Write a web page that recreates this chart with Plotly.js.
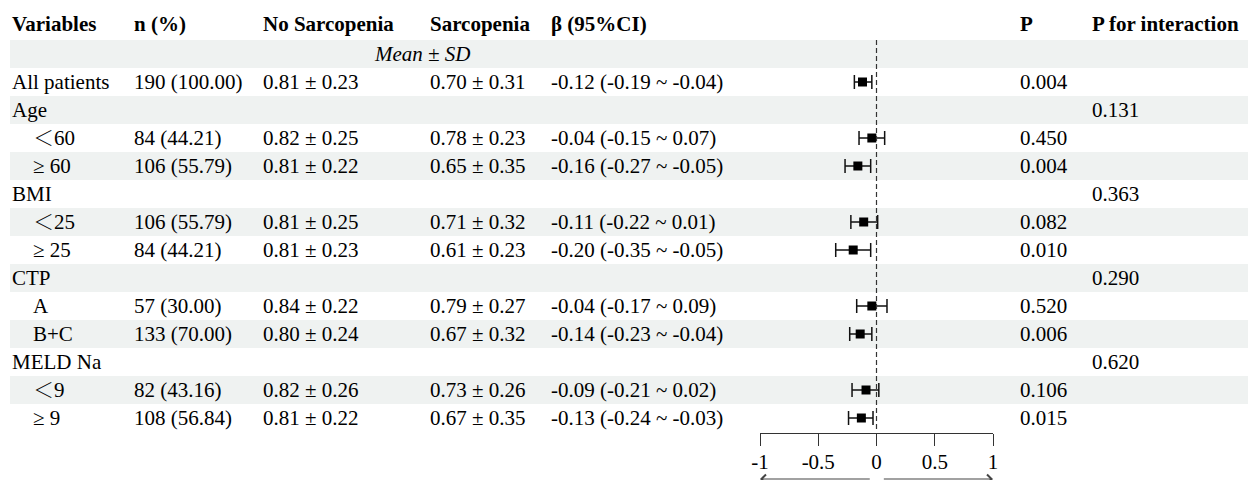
<!DOCTYPE html>
<html>
<head>
<meta charset="utf-8">
<script src="https://cdn.plot.ly/plotly-3.0.1.min.js"></script>
<style>html,body{margin:0;padding:0;background:#fff;}#chart{width:1248px;height:480px;}</style>
</head>
<body>
<div id="chart"></div>
<script>
// ---- data ----
const headers = ['Variables', 'n (%)', 'No Sarcopenia', 'Sarcopenia', 'β (95%CI)', 'P', 'P for interaction'];
const subHeader = 'Mean ± SD';
const labels = ['All patients', 'Age', '＜60', '≥ 60', 'BMI', '＜25', '≥ 25', 'CTP', 'A', 'B+C', 'MELD Na', '＜9', '≥ 9'];
const isSub = [false, false, true, true, false, true, true, false, true, true, false, true, true];
const nPct = ['190 (100.00)', '', '84 (44.21)', '106 (55.79)', '', '106 (55.79)', '84 (44.21)', '', '57 (30.00)', '133 (70.00)', '', '82 (43.16)', '108 (56.84)'];
const noSarc = ['0.81 ± 0.23', '', '0.82 ± 0.25', '0.81 ± 0.22', '', '0.81 ± 0.25', '0.81 ± 0.23', '', '0.84 ± 0.22', '0.80 ± 0.24', '', '0.82 ± 0.26', '0.81 ± 0.22'];
const sarc = ['0.70 ± 0.31', '', '0.78 ± 0.23', '0.65 ± 0.35', '', '0.71 ± 0.32', '0.61 ± 0.23', '', '0.79 ± 0.27', '0.67 ± 0.32', '', '0.73 ± 0.26', '0.67 ± 0.35'];
const beta = [-0.12, null, -0.04, -0.16, null, -0.11, -0.20, null, -0.04, -0.14, null, -0.09, -0.13];
const ciLow = [-0.19, null, -0.15, -0.27, null, -0.22, -0.35, null, -0.17, -0.23, null, -0.21, -0.24];
const ciHigh = [-0.04, null, 0.07, -0.05, null, 0.01, -0.05, null, 0.09, -0.04, null, 0.02, -0.03];
const pVal = ['0.004', '', '0.450', '0.004', '', '0.082', '0.010', '', '0.520', '0.006', '', '0.106', '0.015'];
const pInter = ['', '0.131', '', '', '0.363', '', '', '0.290', '', '', '0.620', '', ''];
const xTickVals = [-1, -0.5, 0, 0.5, 1];
const xTickText = ['-1', '-0.5', '0', '0.5', '1'];

// ---- layout helpers ----
const W = 1248, H = 480;
const AXIS_Y = 433;
const FONT = 'Liberation Serif, Times New Roman, Noto Serif CJK SC, Noto Sans CJK SC, serif';
const FS = 21;
const colX = [10, 132, 261, 428, 549, 1018, 1090];
const SUB_X = 31;
const HEADER_Y = 24, SUBHEAD_Y = 54, ROW0 = 82, ROWH = 28;
const rowY = i => ROW0 + ROWH * i;
const fmt = v => v.toFixed(2);

const annotations = [];
function txt(x, y, text, opts) {
  annotations.push(Object.assign({
    xref: 'paper', yref: 'y', x: x / W, y: y, text: text, showarrow: false,
    xanchor: 'left', yanchor: 'middle', font: {family: FONT, size: FS, color: '#000'}
  }, opts || {}));
}
headers.forEach((h, j) => txt(colX[j], HEADER_Y, '<b>' + h + '</b>'));
txt(422, SUBHEAD_Y, '<i>' + subHeader + '</i>', {xanchor: 'center'});

labels.forEach((lab, i) => {
  const y = rowY(i);
  txt(isSub[i] ? SUB_X : colX[0], y, lab);
  if (nPct[i]) txt(colX[1], y, nPct[i]);
  if (noSarc[i]) txt(colX[2], y, noSarc[i]);
  if (sarc[i]) txt(colX[3], y, sarc[i]);
  if (beta[i] !== null) txt(colX[4], y, fmt(beta[i]) + ' (' + fmt(ciLow[i]) + ' ~ ' + fmt(ciHigh[i]) + ')');
  if (pVal[i]) txt(colX[5], y, pVal[i]);
  if (pInter[i]) txt(colX[6], y, pInter[i]);
});

// arrows under axis
const arrowY = 1 - 479 / H;
annotations.push({xref: 'x', yref: 'paper', x: -1, y: arrowY, axref: 'x', ax: -0.045, ayref: 'pixel', ay: 0,
  text: '', showarrow: true, arrowhead: 4, arrowsize: 1.6, arrowwidth: 1.1, arrowcolor: '#444'});
annotations.push({xref: 'x', yref: 'paper', x: 1, y: arrowY, axref: 'x', ax: 0.05, ayref: 'pixel', ay: 0,
  text: '', showarrow: true, arrowhead: 4, arrowsize: 1.6, arrowwidth: 1.1, arrowcolor: '#444'});

// shaded bands
const shapes = [];
const bandRows = [SUBHEAD_Y].concat(labels.map((_, i) => rowY(i)));
bandRows.forEach((y, k) => {
  if (k % 2 === 0) shapes.push({type: 'rect', xref: 'paper', yref: 'y', x0: 10 / W, x1: 1,
    y0: y - ROWH / 2, y1: y + ROWH / 2, fillcolor: '#EFF2F1', line: {width: 0}, layer: 'below'});
});
// reference dashed line at 0
shapes.push({type: 'line', xref: 'x', yref: 'y', x0: 0, x1: 0, y0: 40, y1: 430,
  line: {color: '#333', width: 1.2, dash: '5px,3px'}});

// forest trace
const fx = [], fy = [], ep = [], em = [];
beta.forEach((b, i) => {
  if (b === null) return;
  fx.push(b); fy.push(rowY(i));
  ep.push(ciHigh[i] - b); em.push(b - ciLow[i]);
});
const trace = {
  type: 'scatter', mode: 'markers', x: fx, y: fy, cliponaxis: false, hoverinfo: 'skip',
  marker: {symbol: 'square', size: 9, color: '#000'},
  error_x: {type: 'data', symmetric: false, array: ep, arrayminus: em, width: 7, thickness: 1.5, color: '#111'}
};

const layout = {
  width: W, height: H, margin: {l: 0, r: 0, t: 0, b: 0},
  paper_bgcolor: '#fff', plot_bgcolor: 'rgba(0,0,0,0)', showlegend: false,
  xaxis: {domain: [760 / W, 993 / W], range: [-1, 1], tickvals: xTickVals, ticktext: xTickText,
    ticks: 'outside', ticklen: 12, tickcolor: '#333', tickwidth: 1, showline: true, linecolor: '#333', linewidth: 1,
    showgrid: false, zeroline: false, fixedrange: true, ticklabelstandoff: -2,
    tickfont: {family: FONT, size: FS, color: '#000'}},
  yaxis: {domain: [1 - AXIS_Y / H, 1], range: [AXIS_Y, 0], visible: false, showgrid: false, zeroline: false, fixedrange: true},
  annotations: annotations, shapes: shapes
};
Plotly.newPlot('chart', [trace], layout, {displayModeBar: false, staticPlot: true});
</script>
</body>
</html>
